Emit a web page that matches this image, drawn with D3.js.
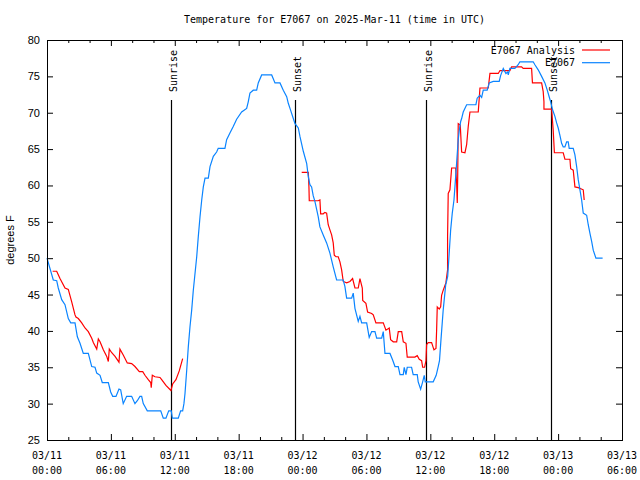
<!DOCTYPE html>
<html>
<head>
<meta charset="utf-8">
<script src="https://cdn.jsdelivr.net/npm/d3@7"></script>
<style>
  html, body { margin: 0; padding: 0; background: #fff; }
  svg { display: block; }
</style>
</head>
<body>
<svg id="chart" width="640" height="480"></svg>
<script>
// ---------- DATA (hours since 2025-03-11 00:00 UTC, degrees F) ----------
const titleText = "Temperature for E7067 on 2025-Mar-11 (time in UTC)";
const yLabelText = "degrees F";
const seriesNames = ["E7067 Analysis", "E7067"];
const yTicks = [25, 30, 35, 40, 45, 50, 55, 60, 65, 70, 75, 80];
const xMajorHours = [0, 6, 12, 18, 24, 30, 36, 42, 48, 54];
const xMinorHours = [2, 4, 8, 10, 14, 16, 20, 22, 26, 28, 32, 34, 38, 40, 44, 46, 50, 52];
const eventLabels = ["Sunrise", "Sunset", "Sunrise", "Sunset"];
const eventHours = [11.63, 23.25, 35.58, 47.33];

// Observations (E7067)
const obs = [
[0,50.0],[0.59,47.0],[0.91,46.9],[1.06,45.9],[1.38,44.3],[1.69,43.6],[2.0,41.7],[2.23,41.1],[2.63,41.1],[2.85,39.2],
[3.10,38.3],[3.41,36.9],[3.88,36.9],[4.20,35.1],[4.51,35.0],[4.67,34.2],[4.98,33.9],[5.19,32.9],[5.76,32.9],[5.98,31.6],
[6.17,31.0],[6.48,31.0],[6.76,32.0],[6.92,31.9],[7.16,30.0],[7.48,31.0],[7.95,31.0],[8.26,30.0],[8.48,30.4],[8.73,31.0],
[8.89,31.0],[9.04,30.0],[9.42,29.0],[10.68,29.0],[10.92,28.0],[11.17,28.0],[11.43,29.0],[11.67,29.0],[11.77,28.0],[12.33,28.0],
[12.55,29.0],[12.74,29.0],[12.86,30.0],[12.96,31.4],[13.12,34.6],[13.27,37.8],[13.43,40.6],[13.59,42.9],[13.74,45.6],[13.90,47.9],
[14.06,50.2],[14.21,53.0],[14.37,55.7],[14.53,58.0],[14.68,59.8],[14.84,61.0],[15.15,61.0],[15.31,62.6],[15.62,64.0],[15.93,64.6],
[16.08,65.1],[16.71,65.1],[16.87,66.3],[17.18,67.2],[17.49,68.1],[17.81,69.1],[18.28,70.1],[18.75,70.6],[18.90,71.5],[19.06,72.7],
[19.37,73.1],[19.69,73.1],[19.84,74.1],[20.16,75.2],[21.10,75.2],[21.41,74.1],[21.88,74.1],[22.19,73.1],[22.51,72.2],[22.66,71.3],
[22.82,70.6],[23.13,69.2],[23.29,68.5],[23.60,67.9],[23.76,66.7],[24.07,64.7],[24.39,63.0],[24.54,61.2],[24.69,60.1],[24.85,59.8],
[25.0,58.6],[25.16,57.8],[25.47,55.7],[25.63,54.3],[25.94,53.2],[26.26,52.1],[26.57,50.7],[26.88,48.8],[27.2,47.0],[27.82,47.0],
[27.98,46.1],[28.14,44.5],[28.61,44.5],[28.76,45.2],[28.92,43.1],[29.23,41.3],[29.39,42.0],[29.55,41.1],[30.02,41.1],[30.26,39.1],
[30.49,39.9],[30.8,39.9],[30.96,39.0],[31.43,39.0],[31.58,39.9],[31.74,36.9],[32.21,36.9],[32.46,36.0],[32.68,35.1],[32.99,35.1],
[33.15,34.0],[33.46,34.0],[33.55,35.0],[33.71,34.0],[33.83,35.0],[34.24,35.0],[34.39,34.0],[34.77,34.0],[34.86,33.0],[35.09,32.0],
[35.28,33.0],[35.43,33.9],[35.52,33.0],[36.27,33.0],[36.55,33.9],[36.74,35.1],[36.86,35.9],[37.0,38.8],[37.21,42.9],[37.44,46.3],
[37.63,47.5],[37.75,50.2],[37.91,53.9],[38.06,56.2],[38.22,58.0],[38.31,59.8],[38.47,63.1],[38.62,66.3],[38.72,67.6],[38.85,68.8],
[38.94,69.2],[39.09,70.1],[39.41,71.1],[40.28,71.1],[40.4,72.0],[40.66,72.4],[40.82,72.1],[40.97,73.1],[41.34,73.1],[41.53,74.1],
[41.91,74.3],[42.47,74.3],[42.6,75.1],[42.85,76.1],[43.1,75.4],[43.26,75.6],[43.32,75.2],[43.47,76.1],[43.94,76.1],[44.25,76.6],
[44.41,77.0],[45.66,77.0],[45.82,76.6],[46.13,75.9],[46.45,75.0],[46.76,74.1],[46.98,73.1],[47.16,72.2],[47.3,71.5],[47.48,70.4],
[47.7,69.5],[47.86,68.6],[48.01,67.9],[48.17,66.9],[48.33,65.8],[48.48,65.3],[48.64,65.3],[48.8,66.0],[48.95,66.0],[49.04,65.1],
[49.42,65.1],[49.58,64.2],[49.74,62.6],[49.89,60.8],[50.05,59.4],[50.21,58.0],[50.36,56.2],[50.68,55.9],[50.83,54.6],[50.99,53.4],
[51.15,52.3],[51.3,51.1],[51.55,50.0],[52.18,50.0]
];

// Analysis (E7067 Analysis), first night segment
const analysisSeg1 = [
[0.53,48.2],[0.91,48.2],[1.22,47.2],[1.69,45.9],[2.0,45.7],[2.32,44.0],[2.63,42.2],[2.72,41.9],[2.94,41.7],[3.26,41.1],
[3.57,40.4],[3.88,39.9],[4.20,39.0],[4.35,38.4],[4.67,37.5],[4.82,38.9],[4.98,38.5],[5.29,37.4],[5.61,36.5],[5.76,35.8],
[5.85,37.5],[6.08,37.0],[6.39,36.5],[6.76,35.7],[6.85,37.5],[7.16,36.7],[7.54,35.6],[7.95,35.5],[8.26,35.1],[8.67,34.4],
[8.99,34.4],[9.2,33.9],[9.51,33.3],[9.74,32.9],[9.79,32.2],[9.89,33.9],[10.14,33.7],[10.61,33.6],[10.77,33.3],[11.17,32.5],
[11.64,31.8],[11.8,32.7],[12.11,33.3],[12.42,34.5],[12.74,36.2]
];

// Analysis, second segment
const analysisSeg2 = [
[23.92,61.8],[24.54,61.8],[24.6,59.8],[24.63,57.9],[25.47,57.9],[25.63,58.0],[25.7,56.1],[25.94,56.1],[26.1,56.3],[26.26,56.2],
[26.41,54.6],[26.57,53.9],[26.73,53.2],[26.88,52.1],[26.98,50.4],[27.14,50.2],[27.35,50.2],[27.51,49.5],[27.67,48.4],[27.82,46.8],
[28.14,46.6],[28.45,46.8],[28.7,47.2],[28.92,45.9],[29.23,45.9],[29.39,47.2],[29.61,45.9],[29.65,44.2],[29.95,43.8],[30.11,42.6],
[30.49,42.4],[30.64,42.2],[30.89,41.1],[31.58,41.1],[31.83,40.1],[32.14,40.4],[32.27,38.8],[32.52,38.5],[32.84,38.5],[32.99,39.9],
[33.31,39.9],[33.46,38.5],[33.71,38.3],[33.83,36.4],[34.55,36.4],[34.77,36.6],[34.96,36.1],[35.18,35.9],[35.28,35.0],[35.46,35.0],
[35.59,35.9],[35.65,38.1],[35.8,38.4],[36.12,38.4],[36.34,37.4],[36.53,37.6],[36.59,40.1],[36.65,43.3],[36.84,43.0],[36.97,43.3],
[37.06,44.9],[37.21,45.6],[37.46,46.6],[37.62,48.4],[37.62,53.0],[37.68,58.9],[37.84,59.4],[38.0,62.4],[38.38,62.4],[38.47,60.3],
[38.53,57.6],[38.57,61.2],[38.62,68.5],[38.81,68.3],[38.94,64.6],[39.25,64.5],[39.41,65.6],[39.56,68.1],[39.72,70.1],[40.5,70.1],
[40.66,73.4],[41.44,73.4],[41.6,75.4],[42.38,75.4],[42.54,75.8],[43.47,75.8],[43.63,76.3],[44.57,76.3],[44.72,76.1],[45.51,76.1],
[45.59,74.1],[46.45,74.1],[46.6,72.9],[46.67,71.5],[46.67,70.5],[47.39,70.5],[47.54,67.6],[47.65,64.5],[48.48,64.5],[48.64,63.6],
[49.11,63.6],[49.18,62.3],[49.42,62.1],[49.58,59.8],[49.89,59.7],[50.36,59.4],[50.45,58.0]
];

// ---------- CHART ----------
const W = 640, H = 480;
const M = { left: 47, right: 622, top: 40, bottom: 440 };
const base = Date.UTC(2025, 2, 11, 0, 0, 0);
const toDate = h => new Date(base + h * 3600 * 1000);

const mono = "'DejaVu Sans Mono', monospace";
const sans = "'Liberation Sans', Arial, sans-serif";
const RED = "#ff0000", BLUE = "#0a84ff";

const svg = d3.select("#chart");
svg.append("rect").attr("width", W).attr("height", H).attr("fill", "#fff");

const x = d3.scaleUtc().domain([toDate(0), toDate(54)]).range([M.left, M.right]);
const y = d3.scaleLinear().domain([25, 80]).range([M.bottom, M.top]);

// Title
svg.append("text")
  .attr("x", (M.left + M.right) / 2).attr("y", 23)
  .attr("text-anchor", "middle")
  .attr("font-family", mono).attr("font-size", 10)
  .text(titleText);

// Y label
svg.append("text")
  .attr("transform", `translate(14,${(M.top + M.bottom) / 2}) rotate(-90)`)
  .attr("text-anchor", "middle")
  .attr("font-family", sans).attr("font-size", 11)
  .text(yLabelText);

function styleAxis(g) {
  g.select(".domain").remove();
  g.selectAll(".tick line").attr("stroke", "#000").attr("stroke-width", 1);
}

// Bottom axis (major + minor), ticks inward
const majorDates = xMajorHours.map(toDate);
const minorDates = xMinorHours.map(toDate);

svg.append("g").attr("transform", `translate(0,${M.bottom})`)
  .call(d3.axisBottom(x).tickValues(majorDates).tickSizeInner(-6).tickSizeOuter(0).tickFormat(""))
  .call(styleAxis);
svg.append("g").attr("transform", `translate(0,${M.bottom})`)
  .call(d3.axisBottom(x).tickValues(minorDates).tickSizeInner(-3).tickSizeOuter(0).tickFormat(""))
  .call(styleAxis);
svg.append("g").attr("transform", `translate(0,${M.top})`)
  .call(d3.axisTop(x).tickValues(majorDates).tickSizeInner(-6).tickSizeOuter(0).tickFormat(""))
  .call(styleAxis);
svg.append("g").attr("transform", `translate(0,${M.top})`)
  .call(d3.axisTop(x).tickValues(minorDates).tickSizeInner(-3).tickSizeOuter(0).tickFormat(""))
  .call(styleAxis);

// X tick labels (two lines)
const fmtDay = d3.utcFormat("%m/%d"), fmtTime = d3.utcFormat("%H:%M");
const xl = svg.append("g").attr("font-family", mono).attr("font-size", 10).attr("text-anchor", "middle");
majorDates.forEach(d => {
  const t = xl.append("text").attr("x", x(d)).attr("y", 459);
  t.append("tspan").attr("x", x(d)).attr("y", 459).text(fmtDay(d));
  t.append("tspan").attr("x", x(d)).attr("y", 474).text(fmtTime(d));
});

// Left & right axes
const gl = svg.append("g").attr("transform", `translate(${M.left},0)`)
  .call(d3.axisLeft(y).tickValues(yTicks).tickSizeInner(-6).tickSizeOuter(0).tickPadding(7).tickFormat(d3.format("d")))
  .call(styleAxis);
gl.attr("font-family", sans).attr("font-size", 11);
gl.selectAll(".tick text").attr("fill", "#000");
svg.append("g").attr("transform", `translate(${M.right},0)`)
  .call(d3.axisRight(y).tickValues(yTicks).tickSizeInner(-6).tickSizeOuter(0).tickFormat(""))
  .call(styleAxis);

// Sunrise / sunset markers
eventHours.forEach((h, i) => {
  const ex = Math.round(x(toDate(h))) + 0.5;
  svg.append("line").attr("x1", ex).attr("x2", ex).attr("y1", 100).attr("y2", M.bottom)
    .attr("stroke", "#000").attr("stroke-width", 1.2);
  svg.append("text")
    .attr("transform", `translate(${ex + 5},92) rotate(-90)`)
    .attr("font-family", mono).attr("font-size", 10)
    .text(eventLabels[i]);
});

// Lines
const line = d3.line().x(d => x(toDate(d[0]))).y(d => y(d[1]));
[analysisSeg1, analysisSeg2].forEach(seg => {
  svg.append("path").datum(seg).attr("d", line)
    .attr("fill", "none").attr("stroke", RED).attr("stroke-width", 1.2).attr("stroke-linejoin", "miter");
});
svg.append("path").datum(obs).attr("d", line)
  .attr("fill", "none").attr("stroke", BLUE).attr("stroke-width", 1.2).attr("stroke-linejoin", "miter");

// Frame
svg.append("rect")
  .attr("x", M.left + 0.5).attr("y", M.top + 0.5)
  .attr("width", M.right - M.left).attr("height", M.bottom - M.top)
  .attr("fill", "none").attr("stroke", "#000").attr("stroke-width", 1);

// Legend
const legColors = [RED, BLUE];
seriesNames.forEach((name, i) => {
  const ly = 50 + i * 12.7;
  svg.append("text").attr("x", 575).attr("y", ly + 3.5)
    .attr("text-anchor", "end").attr("font-family", mono).attr("font-size", 10)
    .text(name);
  svg.append("line").attr("x1", 582).attr("x2", 610).attr("y1", ly).attr("y2", ly)
    .attr("stroke", legColors[i]).attr("stroke-width", 1.2);
});
</script>
</body>
</html>
